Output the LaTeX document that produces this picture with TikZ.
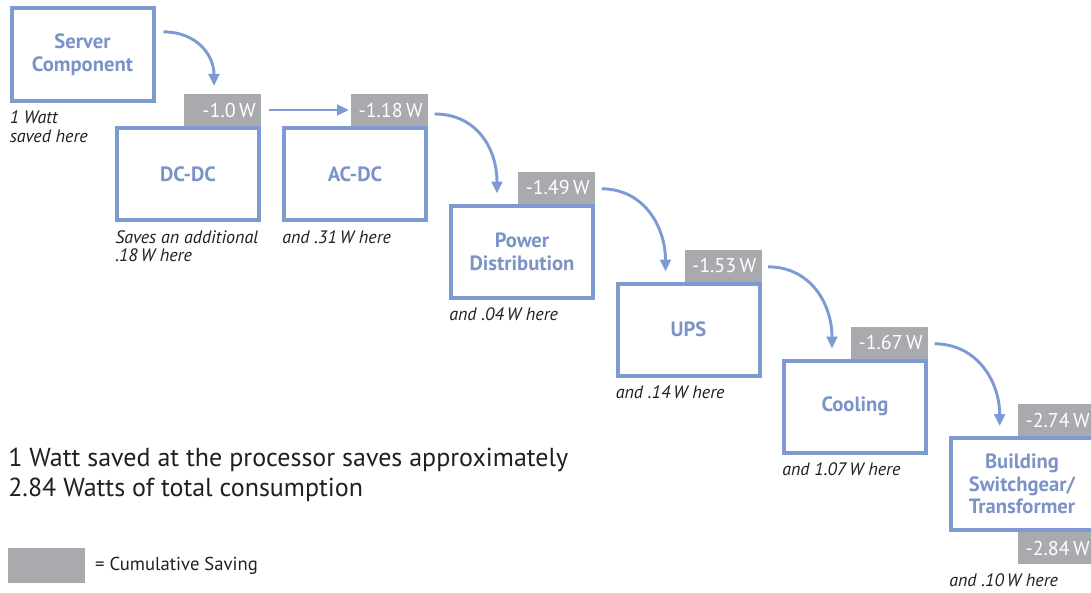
\documentclass[tikz,border=0pt]{standalone}
\usepackage{fontspec}
\setmainfont{PT Sans}
\usetikzlibrary{arrows.meta,positioning}
\definecolor{rahmen}{HTML}{7E9AD3}
\definecolor{kasten}{HTML}{7C93C8}
\definecolor{saving}{HTML}{A9AAAD}
\definecolor{ink}{HTML}{231F20}
\newcommand{\lbl}{\fontsize{15.5}{17}\selectfont}
\newcommand{\notiz}{\fontsize{13.5}{14}\selectfont\itshape}
\tikzset{stufe/.style={draw=rahmen,line width=3pt,minimum width=106.5pt,
    minimum height=69pt,inner sep=0,align=center,text=kasten,font=\lbl\bfseries},
  summe/.style={fill=saving,text=white,text width=49.75pt,align=right,
    inner xsep=4pt,inner ysep=0,minimum height=24pt,outer sep=0,
    font=\fontsize{15}{17}\selectfont},
  notiz/.style={anchor=north west,inner sep=0,align=left,text=ink,font=\notiz},
  fluss/.style={rahmen,line width=2.2pt,-{Triangle[length=9pt,width=8pt]}}}

\begin{document}
\begin{tikzpicture}[x=0.75pt,y=-0.75pt]
\useasboundingbox (0,0) rectangle (1091,592);
% stufen
\node[stufe] (server) at (82.5,54.5) {Server\\Component};
\node[stufe] (dcdc) at (188,174) {DC-DC};
\node[stufe] (acdc) at (355,174) {AC-DC};
\node[stufe] (pdist) at (522,251.5) {Power\\Distribution};
\node[stufe] (ups) at (688.5,329.5) {UPS};
\node[stufe] (cool) at (855,406.5) {Cooling};
\node[stufe] (bldg) at (1022,484) {Building\\Switchgear/\\Transformer};
% kumulierte werte
\node[summe,anchor=south east] (s10) at (dcdc.north east) {-1.0\,W};
\node[summe,anchor=south east] (s118) at (acdc.north east) {-1.18\,W};
\node[summe,anchor=south east] (s149) at (pdist.north east) {-1.49\,W};
\node[summe,anchor=south east] (s153) at (ups.north east) {-1.53\,W};
\node[summe,anchor=south east] (s167) at (cool.north east) {-1.67\,W};
\node[summe,anchor=south east] (s274) at (bldg.north east) {-2.74\,W};
\node[summe,anchor=north east] (s284) at (bldg.south east) {-2.84\,W};
% notizen
\node[notiz] (n0) at ([yshift=-6pt]server.south west) {1 Watt\\saved here};
\node[notiz] (n1) at ([yshift=-6pt]dcdc.south west) {Saves an additional\\.18\,W here};
\node[notiz] (n2) at ([yshift=-6pt]acdc.south west) {and .31\,W here};
\node[notiz] (n3) at ([yshift=-6pt]pdist.south west) {and .04\,W here};
\node[notiz] (n4) at ([yshift=-6pt]ups.south west) {and .14\,W here};
\node[notiz] (n5) at ([yshift=-6pt]cool.south west) {and 1.07\,W here};
\node[notiz] (n6) at ([yshift=-7pt]bldg.south west |- s284.south) {and .10\,W here};
% pfeile
\coordinate (e1) at ([xshift=22.5pt,yshift=6pt]s10.north west);
\coordinate (e3) at ([xshift=36pt,yshift=7.5pt]pdist.north west);
\coordinate (e4) at ([xshift=37.5pt,yshift=7.5pt]ups.north west);
\coordinate (e5) at ([xshift=37.5pt,yshift=7.5pt]cool.north west);
\coordinate (e6) at ([xshift=38pt,yshift=7.5pt]bldg.north west);
\draw[fluss] ([xshift=6pt,yshift=17pt]server.east) .. controls +(32,0) and +(0,-32) .. (e1);
\draw[fluss] ([xshift=6pt]s10.east) -- ([xshift=-1.5pt]s118.west);
\draw[fluss] ([xshift=5pt,yshift=-3pt]s118.east) .. controls +(42,0) and +(0,-45) .. (e3);
\draw[fluss] ([xshift=5pt,yshift=-1pt]s149.east) .. controls +(42,0) and +(0,-45) .. (e4);
\draw[fluss] ([xshift=5pt,yshift=-1pt]s153.east) .. controls +(42,0) and +(0,-45) .. (e5);
\draw[fluss] ([xshift=5pt,yshift=-1pt]s167.east) .. controls +(42,0) and +(0,-45) .. (e6);
% fazit und legende
\node[anchor=north west,inner sep=0,align=left,text=ink,
  font=\fontsize{19.5}{22}\selectfont] (fazit) at (8,448)
  {1 Watt saved at the processor saves approximately\\2.84 Watts of total consumption};
\node[fill=saving,minimum width=57.75pt,minimum height=26.25pt,inner sep=0,
  anchor=north west] (legende) at (8,548) {};
\node[right=7pt of legende,inner sep=0,text=ink,font=\fontsize{14}{16}\selectfont]
  (legtext) {= Cumulative Saving};
\end{tikzpicture}
\end{document}
